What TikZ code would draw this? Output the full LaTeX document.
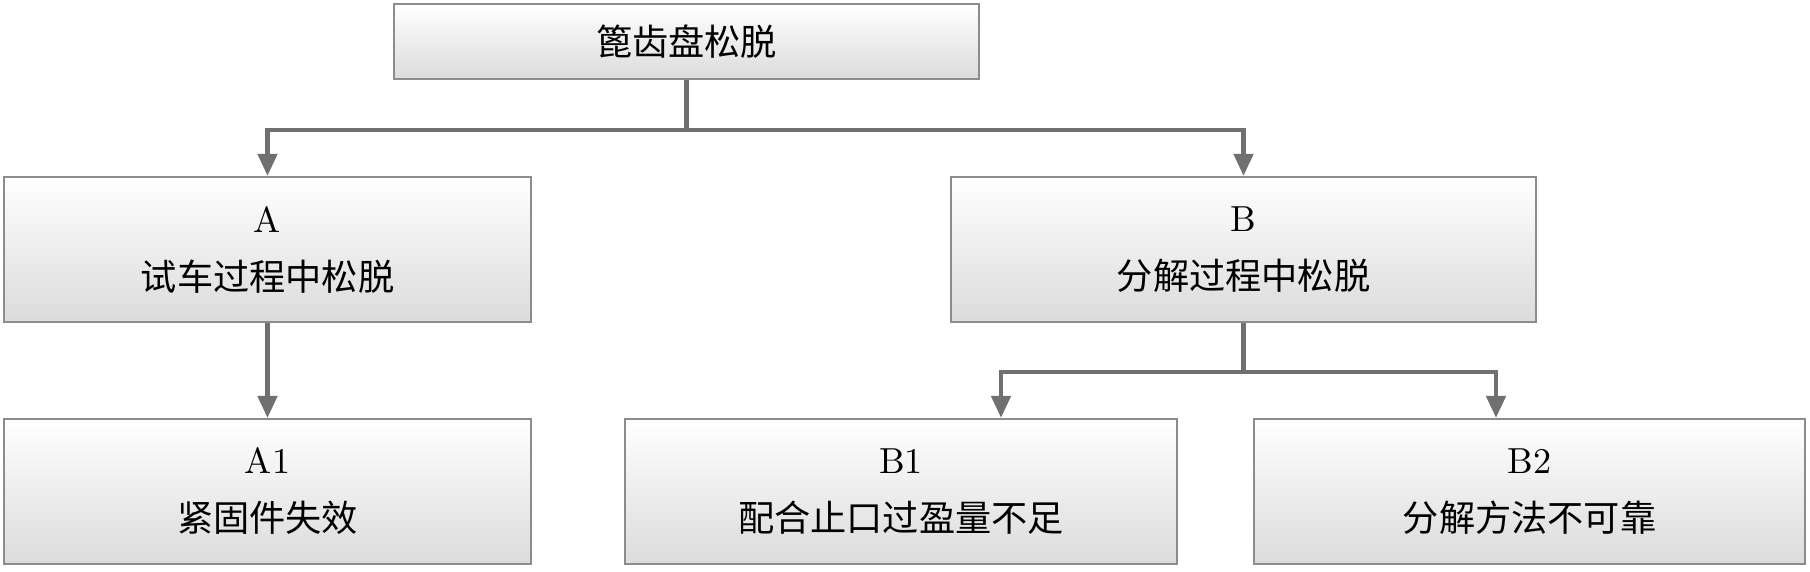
\documentclass[tikz,border=0pt]{standalone}
\usepackage{fontspec}
\newfontfamily\cjk{Noto Sans CJK SC}
\usetikzlibrary{arrows.meta}
\definecolor{boxline}{HTML}{8C8C8C}
\definecolor{linkgray}{HTML}{707070}

\begin{document}
\begin{tikzpicture}[
      box/.style={draw=boxline,line width=0.6pt,top color=white,bottom color=black!14,
        minimum height=1.45cm,align=center,inner sep=0pt,
        font=\fontsize{10.3}{16.5}\selectfont},
      link/.style={draw=linkgray,line width=1.3pt,-{Triangle[length=2.2mm,width=1.9mm]}}]
    \useasboundingbox (0,0) rectangle (18.1,-5.71);
    % top
    \node[box,minimum width=5.85cm,minimum height=0.75cm] (top) at (6.865,-0.415) {\cjk 篦齿盘松脱};
    % second row
    \node[box,minimum width=5.27cm] (A) at (2.675,-2.495) {A\\\cjk 试车过程中松脱};
    \node[box,minimum width=5.85cm] (B) at (12.435,-2.495) {B\\\cjk 分解过程中松脱};
    % third row
    \node[box,minimum width=5.27cm] (A1) at (2.675,-4.915) {A1\\\cjk 紧固件失效};
    \node[box,minimum width=5.52cm] (B1) at (9.01,-4.915) {B1\\\cjk 配合止口过盈量不足};
    \node[box,minimum width=5.51cm] (B2) at (15.295,-4.915) {B2\\\cjk 分解方法不可靠};
    % links
    \draw[link] (top.south) -- ++(0,-0.5) -| (A.north);
    \draw[link] (top.south) -- ++(0,-0.5) -| (B.north);
    \draw[link] (A.south) -- (A1.north);
    \draw[link] (B.south) -- ++(0,-0.49) -| ([xshift=1cm]B1.north);
    \draw[link] (B.south) -- ++(0,-0.49) -| ([xshift=-0.335cm]B2.north);
  \end{tikzpicture}
\end{document}
